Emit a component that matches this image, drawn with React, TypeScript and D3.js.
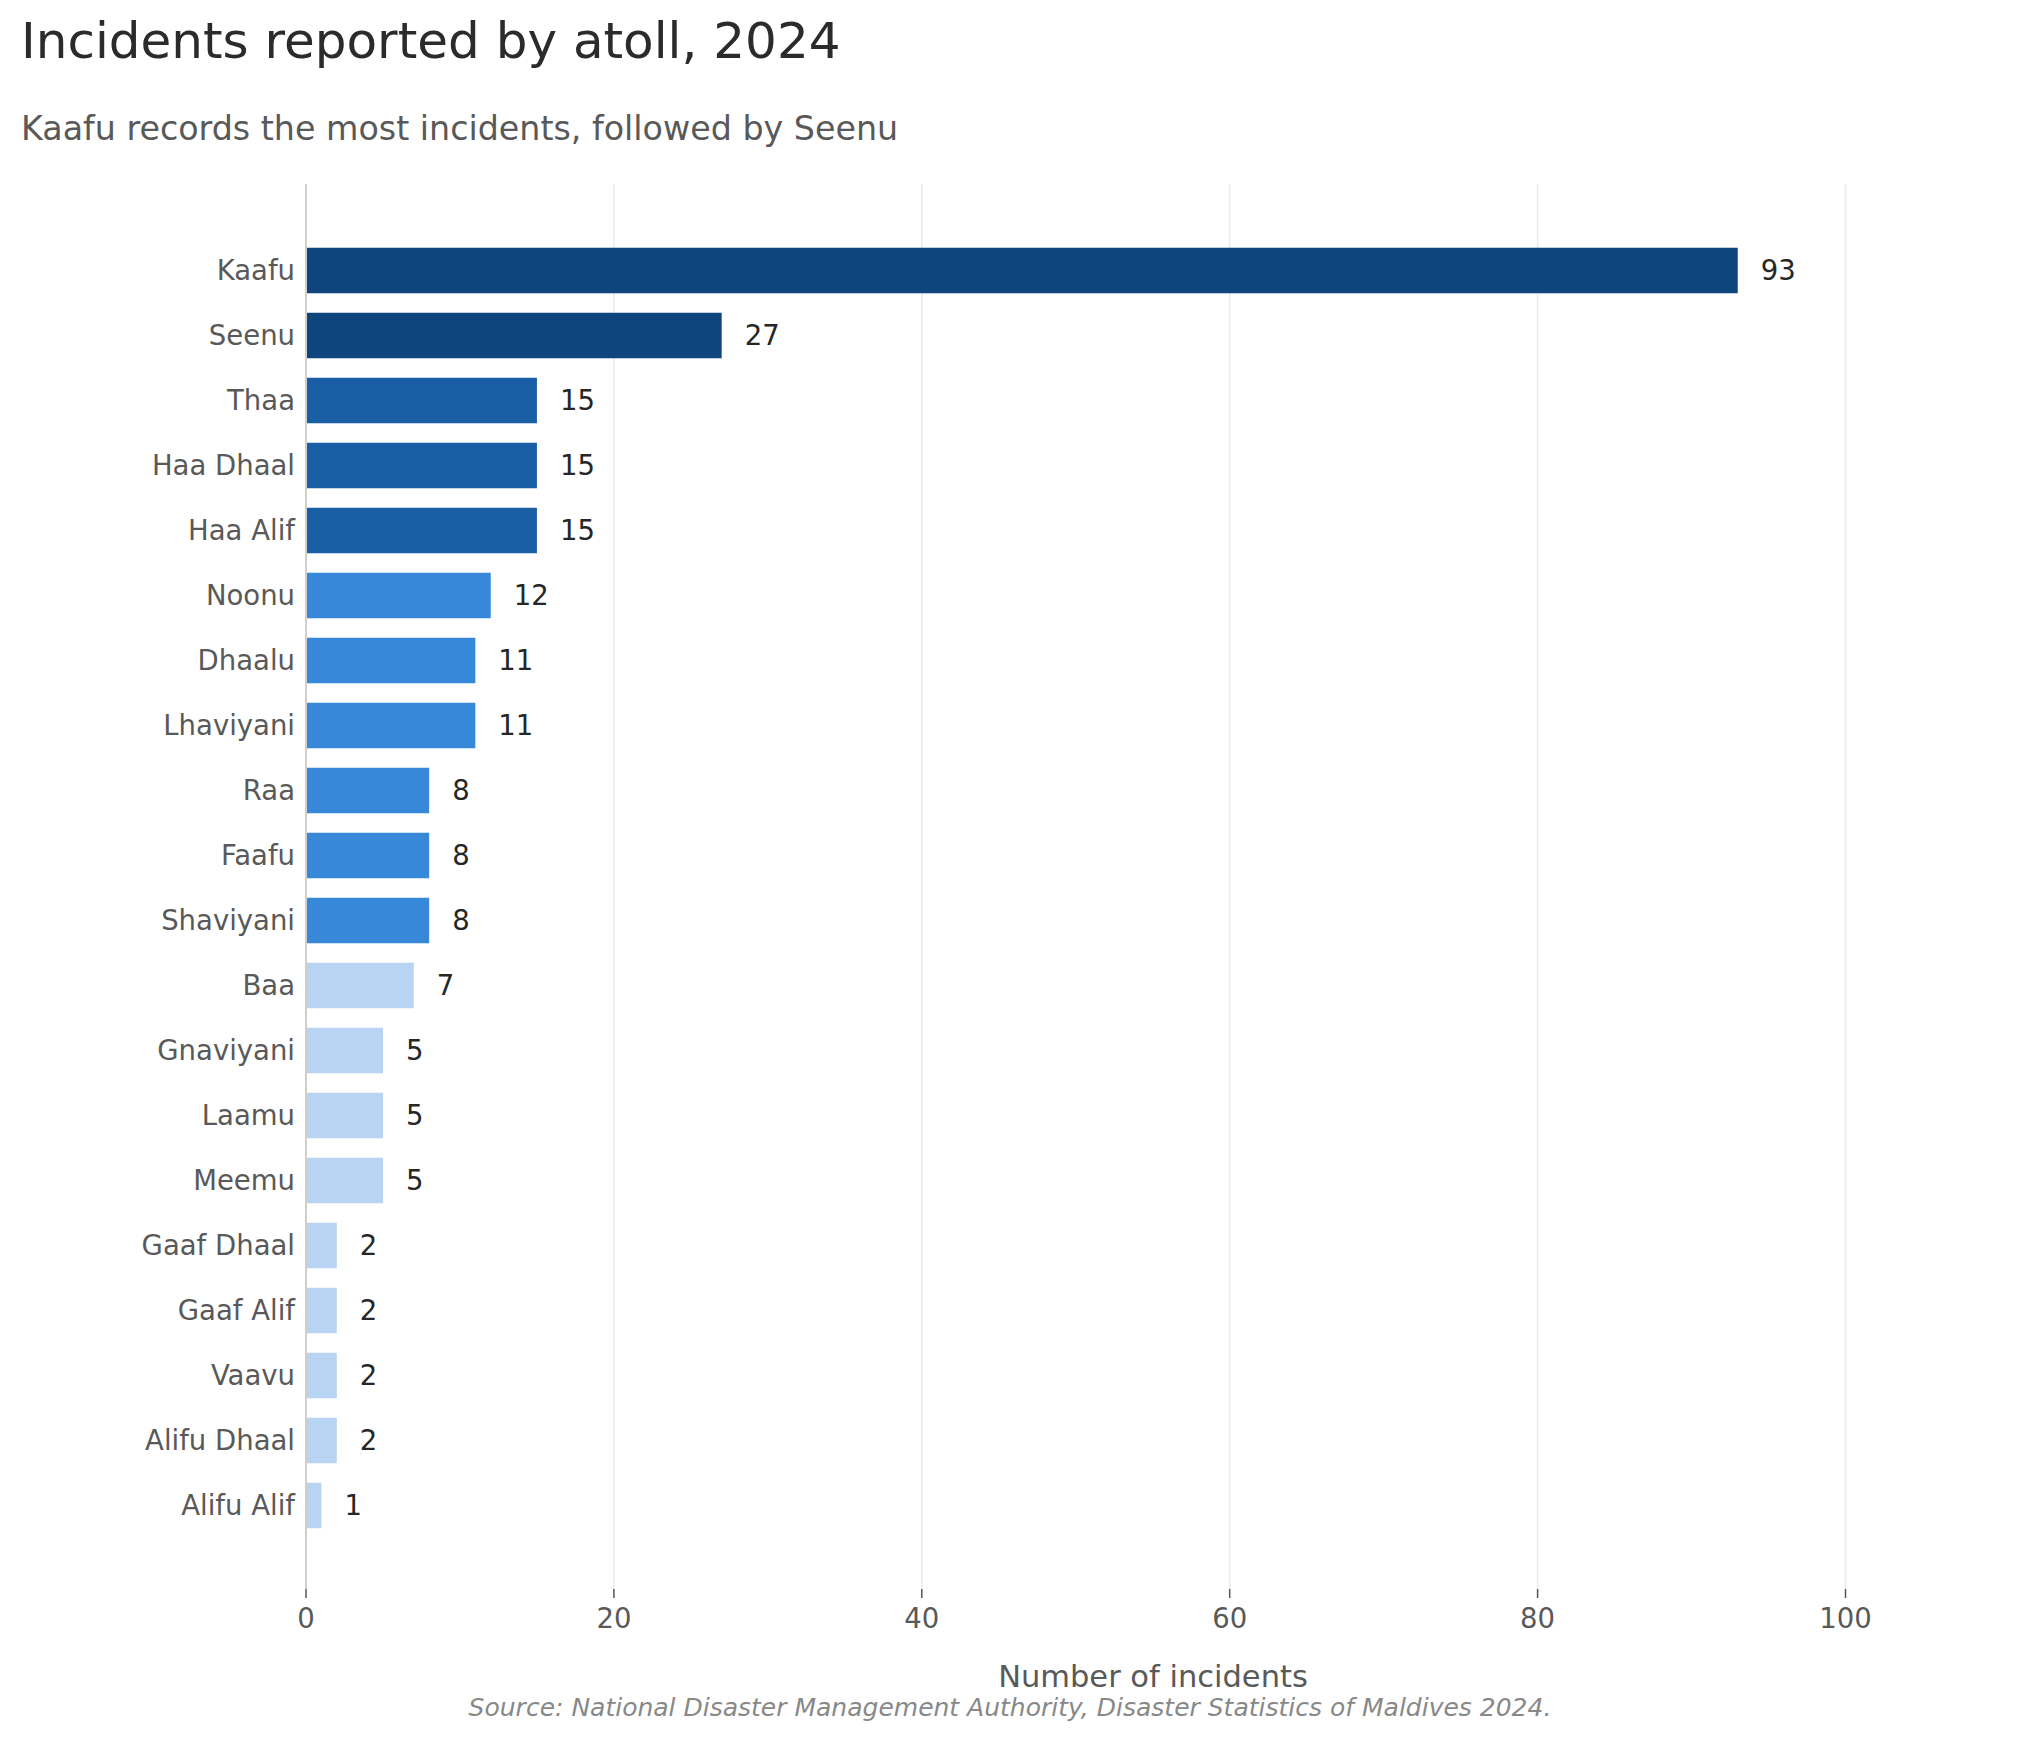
import React from "react";
import * as d3 from "d3";

const categories = [
  "Kaafu", "Seenu", "Thaa", "Haa Dhaal", "Haa Alif", "Noonu", "Dhaalu", "Lhaviyani",
  "Raa", "Faafu", "Shaviyani", "Baa", "Gnaviyani", "Laamu", "Meemu", "Gaaf Dhaal",
  "Gaaf Alif", "Vaavu", "Alifu Dhaal", "Alifu Alif",
];
const incidents = [93, 27, 15, 15, 15, 12, 11, 11, 8, 8, 8, 7, 5, 5, 5, 2, 2, 2, 2, 1];
const xTicks = [0, 20, 40, 60, 80, 100];

const title = "Incidents reported by atoll, 2024";
const subtitle = "Kaafu records the most incidents, followed by Seenu";
const xLabel = "Number of incidents";
const source = "Source: National Disaster Management Authority, Disaster Statistics of Maldives 2024.";

const W = 2020;
const H = 1739;
const FONT = "'DejaVu Sans', sans-serif";

function colorFor(v: number): string {
  if (v >= 20) return "#0d457c";
  if (v >= 13) return "#1a5ea5";
  if (v >= 8) return "#3888da";
  return "#b8d4f2";
}

export default function App() {
  const plotTop = 184;
  const plotBottom = 1589;
  const x = d3.scaleLinear().domain([0, 100]).range([306, 1845.5]);
  const y = d3
    .scaleBand<string>()
    .domain(categories)
    .range([205.5, 1570.5])
    .paddingInner(0.3)
    .paddingOuter(0.65);
  const bw = y.bandwidth();

  return (
    <svg width={W} height={H} viewBox={`0 0 ${W} ${H}`} style={{ display: "block", background: "#fff", margin: "-8px" }}>
      <rect x={0} y={0} width={W} height={H} fill="#fff" />
      <text x={21} y={58} fontFamily={FONT} fontSize={50} fill="#2b2b2b">{title}</text>
      <text x={21} y={140} fontFamily={FONT} fontSize={33.3} fill="#595959">{subtitle}</text>

      {xTicks.map((t) => (
        <g key={t}>
          {t !== 0 && (
            <line x1={x(t)} x2={x(t)} y1={plotTop} y2={plotBottom} stroke="#ebebeb" strokeWidth={1.5} />
          )}
          <line x1={x(t)} x2={x(t)} y1={plotBottom} y2={plotBottom + 9} stroke="#555" strokeWidth={1.5} />
          <text x={x(t)} y={1628} textAnchor="middle" fontFamily={FONT} fontSize={27.5} fill="#595959">{t}</text>
        </g>
      ))}

      {categories.map((c, i) => {
        const v = incidents[i];
        const yc = (y(c) as number) + bw / 2;
        return (
          <g key={c}>
            <rect x={x(0)} y={y(c)} width={x(v) - x(0)} height={bw} fill={colorFor(v)} />
            <text x={295} y={yc} dy="0.35em" textAnchor="end" fontFamily={FONT} fontSize={27.5} fill="#595959">{c}</text>
            <text x={x(v) + 23} y={yc} dy="0.35em" fontFamily={FONT} fontSize={27.5} fill="#262626">{v}</text>
          </g>
        );
      })}

      <line x1={x(0)} x2={x(0)} y1={plotTop} y2={plotBottom} stroke="#d3cfc7" strokeWidth={2} />

      <text x={1153} y={1687} textAnchor="middle" fontFamily={FONT} fontSize={30.5} fill="#595959">{xLabel}</text>
      <text x={1010} y={1716} textAnchor="middle" fontFamily={FONT} fontStyle="italic" fontSize={25} fill="#888">{source}</text>
    </svg>
  );
}
